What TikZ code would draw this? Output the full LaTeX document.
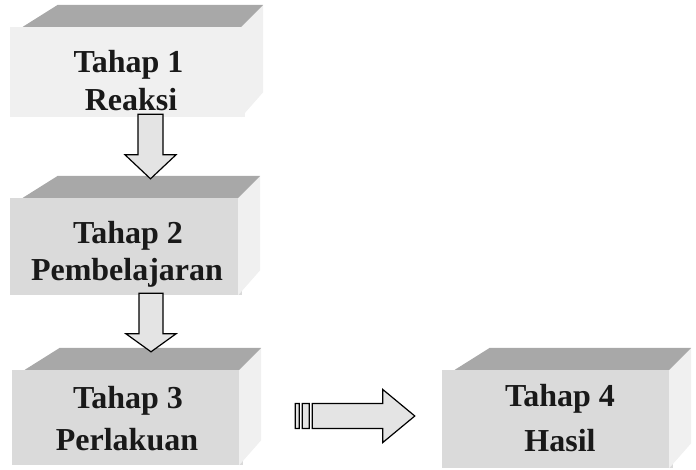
\documentclass[tikz,border=0pt]{standalone}
\usepackage{fontspec}
\setmainfont{Liberation Serif}
\usetikzlibrary{calc}
\definecolor{topc}{HTML}{A8A8A8}
\definecolor{frontc}{HTML}{DADADA}
\definecolor{frontl}{HTML}{F0F0F0}
\definecolor{sidec}{HTML}{F0F0F0}
\definecolor{arrc}{HTML}{E4E4E4}
\tikzset{
  front/.style={inner sep=0pt, fill=frontc, draw=none},
  lbl/.style={font=\fontsize{32}{38}\selectfont\bfseries, text=black!90, inner sep=0pt, anchor=base},
  blockarrow/.style={fill=arrc, draw=black, line width=1.2pt, line join=miter},
}
\newcommand{\boxtop}[1]{%
  \fill[sidec] ($(#1.north east)+(-4,0)$) -- ($(#1.north east)+(18,-22)$) -- ($(#1.south east)+(18,-25)$) -- ($(#1.south east)+(-4,0)$) -- cycle;
  \fill[topc] ($(#1.north west)+(13,0)$) -- ($(#1.north west)+(48,-22)$) -- ($(#1.north east)+(18,-22)$) -- ($(#1.north east)+(-4,0)$) -- cycle;
}
\begin{document}
\begin{tikzpicture}[x=1pt,y=-1pt]
\useasboundingbox (0,0) rectangle (696,469);
% front faces
\node[front, fill=frontl, minimum width=235pt, minimum height=90pt] (b1) at (127.5,72) {};
\node[front, minimum width=232pt, minimum height=97pt] (b2) at (126,246.5) {};
\node[front, minimum width=231pt, minimum height=95pt] (b3) at (127.5,417.5) {};
\node[front, minimum width=231pt, minimum height=98pt] (b4) at (557.5,419) {};
\boxtop{b1}
\boxtop{b2}
\boxtop{b3}
\boxtop{b4}
% texts
\node[lbl] (t1a) at (128.5,72) {Tahap 1};
\node[lbl] (t1b) at (131,110) {Reaksi};
\node[lbl] (t2a) at (128,243) {Tahap 2};
\node[lbl] (t2b) at (127,280) {Pembelajaran};
\node[lbl] (t3a) at (128,408) {Tahap 3};
\node[lbl] (t3b) at (127,450) {Perlakuan};
\node[lbl] (t4a) at (560,406) {Tahap 4};
\node[lbl] (t4b) at (560,451) {Hasil};
% down arrow 1
\coordinate (a1s) at ($(b1.south)+(23,-3)$);
\coordinate (a1e) at ($(b2.north)+(23,-19)$);
\path let \p1=(a1s), \p2=(a1e) in
  [blockarrow] (\x1-12.5pt,\y1) -- (\x1+12.5pt,\y1) -- (\x1+12.5pt,\y2+24pt) -- (\x1+25.5pt,\y2+24pt)
  -- (\x1,\y2) -- (\x1-25.5pt,\y2+24pt) -- (\x1-12.5pt,\y2+24pt) -- cycle;
% down arrow 2
\coordinate (a2s) at ($(b2.south)+(25,-2)$);
\coordinate (a2e) at ($(b3.north)+(23.5,-18)$);
\path let \p1=(a2s), \p2=(a2e) in
  [blockarrow] (\x1-12pt,\y1) -- (\x1+12pt,\y1) -- (\x1+12pt,\y2+18pt) -- (\x1+25pt,\y2+18pt)
  -- (\x1,\y2) -- (\x1-25pt,\y2+18pt) -- (\x1-12pt,\y2+18pt) -- cycle;
% horizontal arrow
\coordinate (h1s) at ($(b3.east)+(52,-1.5)$);
\coordinate (h1e) at ($(b4.west)+(-27,-3)$);
\path let \p1=(h1s), \p2=(h1e) in
  [blockarrow] (\x1,\y1+12.5pt) rectangle (\x1+4pt,\y1-12.5pt)
  (\x1+7pt,\y1+12.5pt) rectangle (\x1+14pt,\y1-12.5pt)
  (\x1+17pt,\y1+12.5pt) -- (\x2-32pt,\y1+12.5pt) -- (\x2-32pt,\y1+26.5pt) -- (\x2,\y1)
  -- (\x2-32pt,\y1-26.5pt) -- (\x2-32pt,\y1-12.5pt) -- (\x1+17pt,\y1-12.5pt) -- cycle;
\end{tikzpicture}
\end{document}
